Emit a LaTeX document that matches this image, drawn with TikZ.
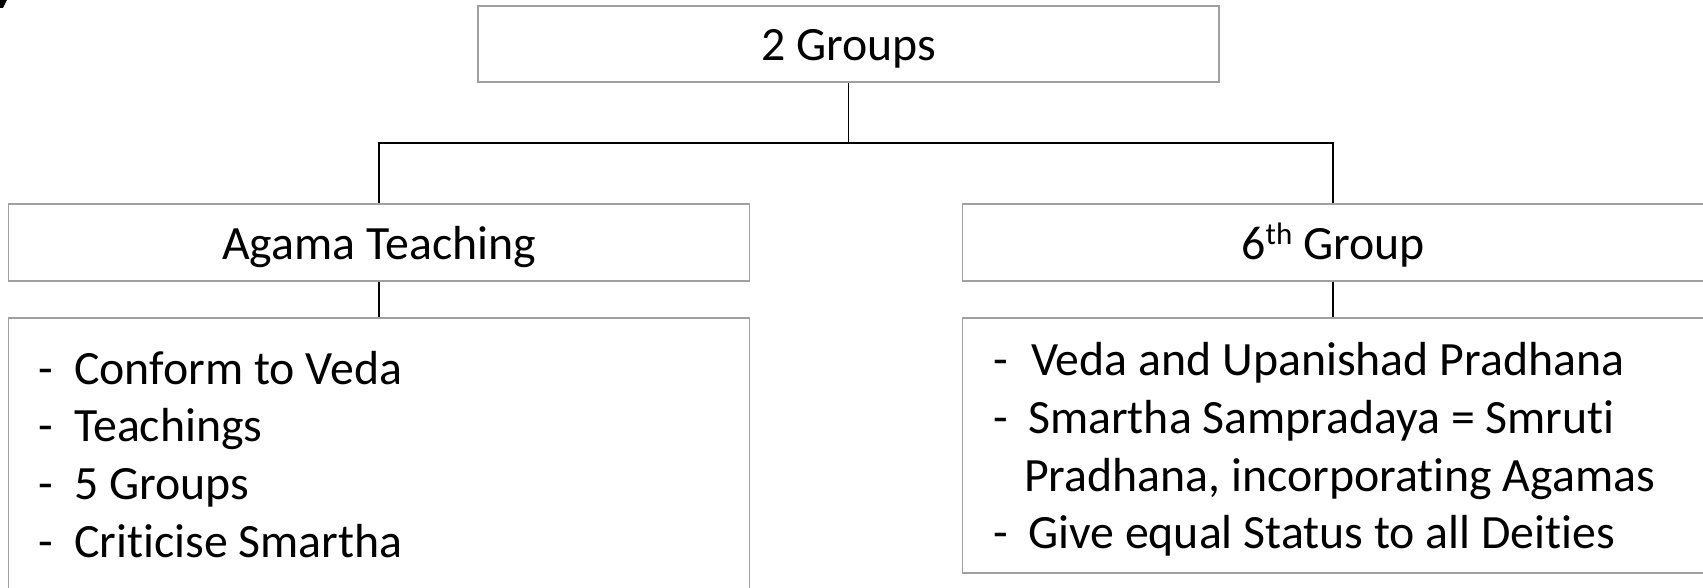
\documentclass[tikz,border=0pt]{standalone}
\usepackage{fontspec}
\setmainfont{Carlito}[Ligatures=NoCommon]
\definecolor{boxgray}{RGB}{160,160,160}
\begin{document}
\begin{tikzpicture}[x=1pt,y=-1pt,
  box/.style={draw=boxgray, line width=1.4pt, minimum width=741pt, inner sep=0pt},
  conn/.style={draw=black, line width=1.3pt},
  txt/.style={font=\fontsize{47.8}{57.7}\selectfont, inner sep=0pt, text=black}]
\useasboundingbox (0,0) rectangle (1703,588);
\clip (0,0) rectangle (1703,588);
% fragment at top-left corner
\fill[black] (0,0) -- (7,0) -- (3,8) -- (0,8) -- cycle;
% boxes
\node[box, minimum height=76pt] (top) at (848.5,44) {};
\node[box, minimum height=77pt] (agama) at (379,242.5) {};
\node[box, minimum height=77pt] (sixth) at (1333,242.5) {};
\node[box, minimum height=364pt] (leftlist) at (379,500) {};
\node[box, minimum height=255pt] (rightlist) at (1333,445.5) {};
% connectors
\coordinate (j) at (848.5,143);
\draw[conn] (top.south) -- (j);
\draw[conn] (j) -| (agama.north);
\draw[conn] (j) -| (sixth.north);
\draw[conn] (agama.south) -- (leftlist.north);
\draw[conn] (sixth.south) -- (rightlist.north);
% titles
\node[txt, anchor=base] (ttop) at (848.5,61) {2 Groups};
\node[txt, anchor=base] (tagama) at (379,260) {Agama Teaching};
\node[txt, anchor=base] (tsixth) at (1333,260) {6\raisebox{0.33em}{\fontsize{31}{31}\selectfont th} Group};
% left list
\node[txt, anchor=base west] (ld1) at (38,384) {-};
\node[txt, anchor=base west] (l1) at (74,384) {Conform to Veda};
\node[txt, anchor=base west] (ld2) at (38,441.7) {-};
\node[txt, anchor=base west] (l2) at (74,441.7) {Teachings};
\node[txt, anchor=base west] (ld3) at (38,499.4) {-};
\node[txt, anchor=base west] (l3) at (74,499.4) {5 Groups};
\node[txt, anchor=base west] (ld4) at (38,557) {-};
\node[txt, anchor=base west] (l4) at (74,557) {Criticise Smartha};
% right list
\node[txt, anchor=base west] (rd1) at (993,375) {-};
\node[txt, anchor=base west] (r1) at (1031,375) {Veda and Upanishad Pradhana};
\node[txt, anchor=base west] (rd2) at (993,433) {-};
\node[txt, anchor=base west] (r2) at (1028,433) {Smartha Sampradaya = Smruti};
\node[txt, anchor=base west] (r3) at (1024,491) {Pradhana, incorporating Agamas};
\node[txt, anchor=base west] (rd4) at (993,548) {-};
\node[txt, anchor=base west] (r4) at (1028,548) {Give equal Status to all Deities};
\end{tikzpicture}
\end{document}
